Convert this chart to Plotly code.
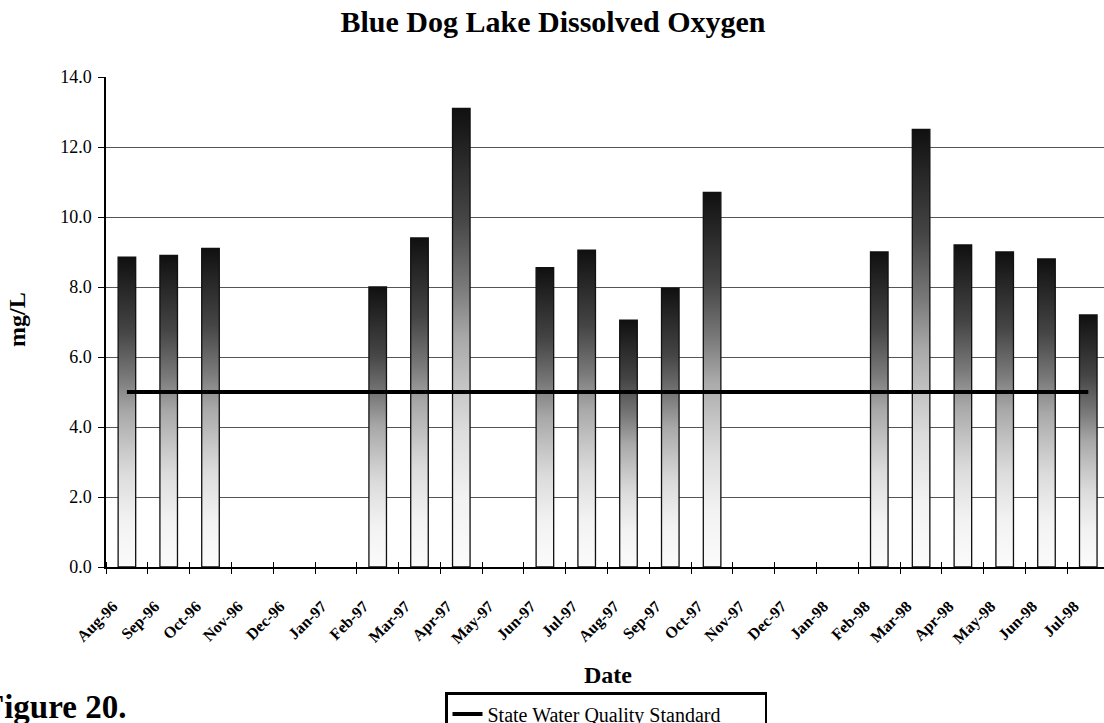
import plotly.graph_objects as go

# monthly samples, Aug-96 .. Jul-98 (None = no sample that month)
months = ["Aug-96", "Sep-96", "Oct-96", "Nov-96", "Dec-96", "Jan-97", "Feb-97", "Mar-97",
          "Apr-97", "May-97", "Jun-97", "Jul-97", "Aug-97", "Sep-97", "Oct-97", "Nov-97",
          "Dec-97", "Jan-98", "Feb-98", "Mar-98", "Apr-98", "May-98", "Jun-98", "Jul-98"]
do_mgl = [8.85, 8.9, 9.1, None, None, None, 8.0, 9.4,
          13.1, None, 8.55, 9.05, 7.05, 7.97, 10.7, None,
          None, None, 9.0, 12.5, 9.2, 9.0, 8.8, 7.2]
standard = [5.0] * len(months)

FONT = "Liberation Serif"
half_w = 0.21  # half bar width in category units

grad = [[0.0, "#fbfbfb"], [0.15, "#f2f2f2"], [0.3, "#dcdcdc"], [0.38, "#c8c8c8"],
        [0.5, "#a8a8a8"], [0.61, "#7a7a7a"], [0.76, "#454545"], [0.92, "#222222"],
        [1.0, "#101010"]]

fig = go.Figure()

# gradient-filled columns
for i, v in enumerate(do_mgl):
    if v is None:
        continue
    fig.add_trace(go.Scatter(
        x=[i - half_w, i - half_w, i + half_w, i + half_w, i - half_w],
        y=[0, v, v, 0, 0],
        mode="lines", fill="toself",
        fillgradient=dict(type="vertical", colorscale=grad),
        line=dict(color="#111111", width=1.3),
        showlegend=False, hoverinfo="skip"))

fig.add_trace(go.Scatter(x=list(range(len(months))), y=standard, mode="lines",
                         line=dict(color="black", width=4),
                         name="State Water Quality Standard"))

# second x axis only for the inward half of the category tick marks
fig.add_trace(go.Scatter(x=[0], y=[0], xaxis="x2", mode="markers",
                         marker=dict(opacity=0), showlegend=False, hoverinfo="skip"))

xrange = [-0.5, 23.376]
bounds = [k - 0.5 for k in range(len(months) + 1)]

def px_x(p):
    return (p - 106) / 998

def px_y(p):
    return (567 - p) / 490

fig.update_layout(
    width=1104, height=723,
    margin=dict(l=106, r=0, t=77, b=156, autoexpand=False),
    paper_bgcolor="white", plot_bgcolor="white",
    font=dict(family=FONT, color="black"),
    title=dict(text="<b>Blue Dog Lake Dissolved Oxygen</b>", font=dict(size=30),
               xref="container", x=553 / 1104, xanchor="center",
               yref="container", y=1 - 21 / 723, yanchor="middle"),
    xaxis=dict(range=xrange, tickmode="array", tickvals=list(range(len(months))),
               ticktext=months, tickangle=-45, ticks="", automargin=False,
               tickfont=dict(size=16, family=FONT, weight="bold"),
               ticklabelshift=-14, ticklabelstandoff=22,
               showline=True, linecolor="black", linewidth=1.5,
               showgrid=False, zeroline=False,
               minor=dict(tickmode="array", tickvals=bounds, ticks="outside",
                          ticklen=5, tickcolor="black", tickwidth=1.2, showgrid=False)),
    xaxis2=dict(range=xrange, overlaying="x", showticklabels=False, showgrid=False,
                zeroline=False, tickmode="array", tickvals=[], automargin=False,
                minor=dict(tickmode="array", tickvals=bounds, ticks="inside",
                           ticklen=5, tickcolor="black", tickwidth=1.2, showgrid=False),
                anchor="y", side="bottom"),
    yaxis=dict(range=[0, 14], dtick=2, tickformat=".1f", automargin=False,
               tickfont=dict(size=18, family=FONT),
               ticks="outside", ticklen=6, tickcolor="black", ticklabelstandoff=3,
               showline=True, linecolor="black", linewidth=1.5,
               showgrid=True, gridcolor="#555555", gridwidth=1, zeroline=False),
    legend=dict(x=px_x(445), y=px_y(692), xanchor="left", yanchor="top",
                orientation="h", entrywidth=272, entrywidthmode="pixels",
                bgcolor="white", bordercolor="black", borderwidth=2.5,
                font=dict(size=20, family=FONT), itemwidth=30),
    annotations=[
        dict(text="<b>Date</b>", xref="paper", yref="paper",
             x=px_x(608), y=px_y(675),
             showarrow=False, font=dict(size=24), xanchor="center", yanchor="middle"),
        dict(text="<b>mg/L</b>", xref="paper", yref="paper",
             x=px_x(17), y=px_y(320), textangle=-90,
             showarrow=False, font=dict(size=24), xanchor="center", yanchor="middle"),
        dict(text="<b>Figure 20.</b>", xref="paper", yref="paper",
             x=px_x(128), y=px_y(707),
             showarrow=False, font=dict(size=33), xanchor="right", yanchor="middle"),
    ],
)

# page body has an 8px default margin; drop it so the figure sits at (0, 0)
fig.write_html("out.html", config={"displayModeBar": False},
               post_script="document.body.style.margin='0px';")
